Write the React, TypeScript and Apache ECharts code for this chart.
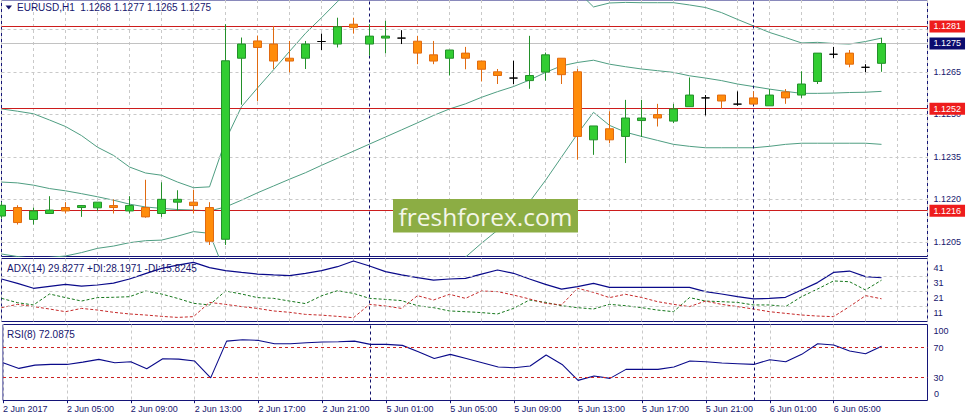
import React, { useEffect, useRef } from "react";
import * as echarts from "echarts";

// ---------- DATA ----------
const timeLabels = [
  "2 Jun 2017", "2 Jun 05:00", "2 Jun 09:00", "2 Jun 13:00", "2 Jun 17:00", "2 Jun 21:00",
  "5 Jun 01:00", "5 Jun 05:00", "5 Jun 09:00", "5 Jun 13:00", "5 Jun 17:00", "5 Jun 21:00",
  "6 Jun 01:00", "6 Jun 05:00",
];
const labelBars = [0, 4, 8, 12, 16, 20, 24, 28, 32, 36, 40, 44, 48, 52];
const daySeparators = [23, 47];

const opens = [
  1.12141, 1.12171, 1.12129, 1.1215, 1.12171, 1.12171, 1.1217, 1.12178, 1.12159, 1.12171,
  1.1215, 1.1219, 1.1219, 1.12171, 1.12059, 1.12698, 1.12759, 1.12748, 1.12698, 1.12698,
  1.12757, 1.12748, 1.12818, 1.12748, 1.12769, 1.12769, 1.12758, 1.1271, 1.12698, 1.12716,
  1.12688, 1.1265, 1.12628, 1.12619, 1.12649, 1.12698, 1.1265, 1.1241, 1.12449, 1.12422,
  1.12478, 1.12499, 1.12476, 1.12527, 1.12558, 1.12568, 1.12536, 1.12558, 1.1253, 1.12579,
  1.12568, 1.12616, 1.12712, 1.12716, 1.12666, 1.1268,
];
const highs = [
  1.12191, 1.12179, 1.12171, 1.12211, 1.1219, 1.1218, 1.1219, 1.122, 1.12211, 1.12269,
  1.1226, 1.12232, 1.12234, 1.1219, 1.12818, 1.12771, 1.12778, 1.12812, 1.12759, 1.12759,
  1.12785, 1.12841, 1.12841, 1.12818, 1.1283, 1.12797, 1.12777, 1.12759, 1.12727, 1.12738,
  1.12688, 1.1266, 1.12689, 1.12777, 1.12718, 1.12698, 1.1266, 1.12459, 1.12511, 1.12551,
  1.12551, 1.12537, 1.12537, 1.1263, 1.12568, 1.12568, 1.12581, 1.12581, 1.12589, 1.12589,
  1.12652, 1.12716, 1.12738, 1.12727, 1.12677, 1.1277,
];
const lows = [
  1.12132, 1.12111, 1.12111, 1.1215, 1.1215, 1.12138, 1.1216, 1.1215, 1.1215, 1.12135,
  1.12138, 1.1216, 1.1215, 1.12039, 1.12039, 1.12534, 1.12546, 1.1266, 1.12648, 1.1266,
  1.12727, 1.12736, 1.12785, 1.12707, 1.12715, 1.12748, 1.12677, 1.12677, 1.12637, 1.12659,
  1.12616, 1.12607, 1.12607, 1.1259, 1.12619, 1.12607, 1.1234, 1.12357, 1.12398, 1.12328,
  1.1242, 1.12457, 1.12469, 1.12527, 1.12496, 1.12519, 1.1253, 1.12536, 1.1253, 1.12537,
  1.12558, 1.12607, 1.12698, 1.12666, 1.12649, 1.1265,
];
const closes = [
  1.12179, 1.12118, 1.12159, 1.12162, 1.12159, 1.12178, 1.1219, 1.12171, 1.12178, 1.12138,
  1.122, 1.122, 1.12178, 1.12052, 1.12689, 1.12748, 1.12736, 1.12688, 1.12688, 1.12748,
  1.12757, 1.12809, 1.12806, 1.12776, 1.12776, 1.12769, 1.12716, 1.12688, 1.12727, 1.12698,
  1.12659, 1.12637, 1.12628, 1.12637, 1.1271, 1.1264, 1.12422, 1.12459, 1.1241, 1.12487,
  1.12487, 1.12487, 1.12519, 1.12568, 1.12558, 1.12547, 1.12536, 1.12536, 1.12568, 1.12558,
  1.12607, 1.12716, 1.12712, 1.12677, 1.12666, 1.1275,
];

const bbUpper = [
  1.12519, 1.12511, 1.12502, 1.1248, 1.12457, 1.12425, 1.12384, 1.12355, 1.12314, 1.12293,
  1.12285, 1.12261, 1.12241, 1.12244, 1.12408, 1.12527, 1.12593, 1.12657, 1.12722, 1.12786,
  1.12841, 1.12898, 1.1295, 1.1299, 1.1302, 1.1304, 1.1306, 1.1307, 1.13075, 1.13075,
  1.13075, 1.13069, 1.13055, 1.13051, 1.13029, 1.12993, 1.12935, 1.12879, 1.12893, 1.12895,
  1.12894, 1.12894, 1.12894, 1.12886, 1.12877, 1.12859, 1.12835, 1.12812, 1.12789, 1.12771,
  1.12752, 1.12754, 1.1275, 1.12748, 1.12757, 1.12769,
];
const bbMiddle = [
  1.12261, 1.12258, 1.1225, 1.12238, 1.1223, 1.1222, 1.12209, 1.12197, 1.12183, 1.12173,
  1.12168, 1.12164, 1.12162, 1.12159, 1.12173, 1.12197, 1.12223, 1.12247, 1.12271, 1.12294,
  1.1232, 1.12345, 1.1237, 1.12395, 1.1242, 1.12445, 1.1247, 1.12496, 1.12519, 1.12537,
  1.1256, 1.1258, 1.12598, 1.12621, 1.12648, 1.12671, 1.12683, 1.12691, 1.12677, 1.12668,
  1.1266, 1.12654, 1.12648, 1.12636, 1.12628, 1.12619, 1.12607, 1.12598, 1.12589, 1.12581,
  1.12574, 1.12574, 1.12575, 1.12577, 1.12578, 1.12581,
];
const bbLower = [
  1.12007, 1.11998, 1.11992, 1.11995, 1.12, 1.12012, 1.12027, 1.12035, 1.12047, 1.12054,
  1.12056, 1.1207, 1.12086, 1.1208, 1.11938, 1.11867, 1.11853, 1.11837, 1.1182, 1.11802,
  1.11799, 1.11792, 1.1179, 1.118, 1.1182, 1.1185, 1.1188, 1.1192, 1.11958, 1.11996,
  1.12045, 1.12091, 1.12141, 1.12191, 1.12267, 1.12349, 1.12431, 1.12507, 1.12461, 1.12437,
  1.12422, 1.12408, 1.12394, 1.12387, 1.12382, 1.12382, 1.12382, 1.12382, 1.12387, 1.12394,
  1.12398, 1.12398, 1.12398, 1.12398, 1.12398, 1.12394,
];

const adxMain = [
  29.0, 26.1, 22.8, 24.1, 25.4, 24.3, 25.0, 26.3, 29.0, 32.6,
  36.1, 38.3, 40.1, 36.6, 34.6, 33.4, 32.3, 31.7, 31.2, 32.8,
  34.6, 37.2, 41.0, 37.7, 33.9, 31.7, 29.9, 28.3, 29.0, 29.4,
  32.3, 35.0, 32.8, 29.0, 25.4, 22.3, 23.9, 26.1, 23.4, 23.4,
  23.4, 23.4, 23.4, 23.4, 20.6, 19.0, 17.2, 15.7, 16.1, 16.8,
  21.7, 26.6, 33.4, 34.3, 30.6, 29.83,
];
const plusDI = [
  16.1, 13.2, 11.7, 19.0, 16.6, 14.3, 16.6, 16.8, 17.2, 21.0,
  19.0, 16.1, 12.8, 11.7, 21.0, 19.0, 16.6, 16.1, 14.3, 12.6,
  17.8, 21.2, 19.4, 16.1, 15.4, 14.6, 11.2, 9.9, 7.7, 7.2,
  6.6, 5.7, 9.4, 15.0, 13.4, 11.2, 9.9, 9.0, 12.1, 11.2,
  9.9, 8.3, 7.2, 16.6, 14.3, 13.9, 13.4, 11.7, 11.7, 10.6,
  17.2, 22.3, 27.7, 27.2, 21.7, 28.2,
];
const minusDI = [
  9.9, 12.1, 10.6, 9.0, 7.2, 9.4, 8.3, 6.8, 5.7, 5.0,
  4.1, 3.4, 3.9, 13.4, 12.1, 10.6, 9.4, 7.7, 6.8, 5.4,
  4.9, 4.1, 3.2, 12.1, 11.0, 9.4, 17.9, 15.0, 18.8, 16.1,
  21.0, 20.6, 18.3, 15.7, 12.8, 11.7, 22.8, 20.1, 16.6, 18.8,
  16.7, 13.9, 12.1, 10.6, 14.3, 12.1, 10.6, 9.0, 7.2, 6.1,
  5.0, 4.3, 3.9, 10.6, 17.9, 15.82,
];
const rsi = [
  50.0, 42.4, 46.8, 47.7, 47.7, 50.8, 54.4, 50.0, 51.3, 42.0,
  55.3, 54.8, 52.2, 29.8, 78.8, 80.6, 79.7, 75.3, 75.3, 76.6,
  77.5, 78.0, 78.8, 74.4, 74.4, 73.1, 64.6, 55.7, 61.1, 55.7,
  50.0, 44.2, 43.3, 45.5, 60.2, 47.7, 26.4, 32.2, 29.1, 41.1,
  41.1, 41.1, 44.2, 52.2, 51.3, 49.5, 48.6, 47.7, 54.0, 51.3,
  61.1, 75.3, 73.5, 65.5, 62.0, 72.09,
];

const priceTicks = [1.1205, 1.122, 1.1235, 1.125, 1.1265, 1.128];
const levelLines = [1.1281, 1.1252, 1.1216];
const lastPrice = 1.1275;
const adxTicks = [11, 21, 31, 41];
const adxGridLevels = [11, 21, 31];
const rsiTicks = [30, 70, 100];
const rsiBottomTick = "0";
const rsiLevels = [70, 30];

// ---------- STYLE ----------
const FONT = "Liberation Sans";
const NAVY = "#16166e";
const BORDER = "#141478";
const GRIDC = "#c9c9c9";
const BB = "#4f9e82";
const BULL = "#32cd32";
const BULL_B = "#23902a";
const BEAR = "#ff8c0a";
const BEAR_B = "#e06a10";
const RED_LINE = "#cc1c1c";
const RED_TAG = "#ee1c1c";
const XMAX = 57.875;
// the terminal keeps the top label of the RSI scale inside the panel
const RSI_LABEL_NUDGE: Record<number, number> = { 100: 92.2 };

function buildOption(): any {
  const grids = [
    { left: 1.5, top: -1, width: 926, height: 257.5 },
    { left: 1.5, top: 258.5, width: 926, height: 63 },
    { left: 1.5, top: 324.5, width: 926, height: 76 },
  ].map((g) => ({
    ...g,
    show: true,
    borderColor: BORDER,
    borderWidth: 1,
    backgroundColor: "transparent",
    containLabel: false,
  }));

  const xAxes = [0, 1, 2].map((gi) => ({
    type: "value",
    gridIndex: gi,
    min: 0,
    max: XMAX,
    interval: 2,
    axisLine: { show: false },
    axisTick:
      gi === 2
        ? { show: true, customValues: labelBars, length: 3, lineStyle: { color: BORDER, width: 1 } }
        : { show: false },
    axisLabel:
      gi === 2
        ? {
            show: true,
            customValues: labelBars,
            formatter: (v: number) => {
              const i = Math.round(v / 4);
              return v % 4 === 0 && i < timeLabels.length ? timeLabels[i] : "";
            },
            align: "left",
            margin: 4,
            fontSize: 9,
            fontFamily: FONT,
            color: NAVY,
          }
        : { show: false },
    splitLine: { show: true, lineStyle: { color: GRIDC, type: [3, 3], width: 1 } },
  }));

  const rsiLabelPos = rsiTicks.map((t) => (RSI_LABEL_NUDGE[t] !== undefined ? RSI_LABEL_NUDGE[t] : t));

  const labelBase = { fontSize: 9, fontFamily: FONT, color: NAVY, margin: 6 };
  const yAxes = [
    {
      type: "value",
      gridIndex: 0,
      position: "right",
      min: 1.119982,
      max: 1.129035,
      axisLine: { show: false },
      axisTick: { show: false },
      splitLine: { show: false },
      axisLabel: { ...labelBase, customValues: priceTicks, formatter: (v: number) => v.toFixed(4) },
    },
    {
      type: "value",
      gridIndex: 1,
      position: "right",
      min: 0.667,
      max: 42.667,
      axisLine: { show: false },
      axisTick: { show: false },
      splitLine: { show: false },
      axisLabel: {
        ...labelBase,
        customValues: adxTicks,
        verticalAlign: "top",
        lineHeight: 14,
        formatter: (v: number) => String(Math.round(v)),
      },
    },
    {
      type: "value",
      gridIndex: 2,
      position: "right",
      min: -0.4,
      max: 100.93,
      axisLine: { show: false },
      axisTick: { show: false },
      splitLine: { show: false },
      axisLabel: {
        ...labelBase,
        customValues: rsiLabelPos,
        formatter: (v: number) => {
          let best = 0;
          rsiLabelPos.forEach((p, i) => {
            if (Math.abs(p - v) < Math.abs(rsiLabelPos[best] - v)) best = i;
          });
          return String(rsiTicks[best]);
        },
      },
    },
  ];

  const dummy = (gi: number, z: number, markLine: any) => ({
    type: "line",
    xAxisIndex: gi,
    yAxisIndex: gi,
    data: [],
    silent: true,
    z,
    markLine: {
      silent: true,
      symbol: ["none", "none"],
      animation: false,
      precision: 6,
      emphasis: { disabled: true },
      ...markLine,
    },
  });

  const hGrid = (gi: number, vals: number[], color: string, type: any, z = 1) =>
    dummy(gi, z, {
      label: { show: false },
      lineStyle: { color, width: 1, type },
      data: vals.map((v) => ({ yAxis: v })),
    });

  const daySep = (gi: number) =>
    dummy(gi, 4, {
      label: { show: false },
      lineStyle: { color: "#10106a", width: 1, type: [3, 3] },
      data: daySeparators.map((k) => ({ xAxis: k })),
    });

  const tagLabel = (bg: string) => ({
    show: true,
    position: "end",
    distance: 2,
    color: "#ffffff",
    backgroundColor: bg,
    padding: [1, 4, 1, 4],
    fontSize: 9,
    fontFamily: FONT,
    lineHeight: 10,
  });

  const lineSeries = (gi: number, vals: number[], color: string, type: any, z = 2, width = 1) => ({
    type: "line",
    xAxisIndex: gi,
    yAxisIndex: gi,
    data: vals.map((v, i) => [i, v]),
    symbol: "none",
    silent: true,
    z,
    lineStyle: { color, width, type },
  });

  const doji = { color: "#000", color0: "#000", borderColor: "#000", borderColor0: "#000", borderColorDoji: "#000" };
  const candleData = opens.map((o, i) => {
    const item: any = { value: [i, o, closes[i], lows[i], highs[i]] };
    if (o === closes[i]) item.itemStyle = doji;
    return item;
  });

  const series: any[] = [
    hGrid(0, priceTicks, GRIDC, [3, 3]),
    lineSeries(0, bbUpper, BB, "solid"),
    lineSeries(0, bbMiddle, BB, "solid"),
    lineSeries(0, bbLower, BB, "solid"),
    dummy(0, 3, {
      lineStyle: { color: "#c2c2c2", width: 1, type: "solid" },
      label: tagLabel("#0c0c6e"),
      data: [{ yAxis: lastPrice, label: { formatter: lastPrice.toFixed(4) } }],
    }),
    dummy(0, 3, {
      lineStyle: { color: RED_LINE, width: 1, type: "solid" },
      label: tagLabel(RED_TAG),
      data: levelLines.map((v) => ({ yAxis: v, label: { formatter: v.toFixed(4) } })),
    }),
    daySep(0),
    {
      type: "candlestick",
      xAxisIndex: 0,
      yAxisIndex: 0,
      z: 5,
      barWidth: 9,
      silent: true,
      encode: { x: 0, y: [1, 2, 3, 4] },
      data: candleData,
      itemStyle: {
        color: BULL,
        color0: BEAR,
        borderColor: BULL_B,
        borderColor0: BEAR_B,
        borderWidth: 1,
      },
    },
    hGrid(1, adxGridLevels, GRIDC, [3, 3]),
    daySep(1),
    lineSeries(1, plusDI, "#17781d", [3, 2], 2),
    lineSeries(1, minusDI, "#c62a2a", [3, 2], 2),
    lineSeries(1, adxMain, "#0a0a8a", "solid", 3, 1.2),
    hGrid(2, rsiLevels, "#cc2323", [3, 3]),
    daySep(2),
    lineSeries(2, rsi, "#0a0a8a", "solid", 3, 1.1),
  ];

  const txt = (x: number, y: number, text: string, fontSize = 10, z = 20) => ({
    type: "text",
    x,
    y,
    z,
    silent: true,
    style: { text, fontSize, fontFamily: FONT, fill: NAVY, verticalAlign: "middle", align: "left" },
  });

  return {
    animation: false,
    backgroundColor: "#ffffff",
    grid: grids,
    xAxis: xAxes,
    yAxis: yAxes,
    series,
    graphic: [
      {
        type: "polygon",
        z: 20,
        silent: true,
        shape: { points: [[5.5, 5.5], [12, 5.5], [8.75, 9.5]] },
        style: { fill: NAVY },
      },
      txt(17, 7.5, "EURUSD,H1  1.1268 1.1277 1.1265 1.1275"),
      txt(7, 268, "ADX(14) 29.8277 +DI:28.1971 -DI:15.8245"),
      txt(7, 334, "RSI(8) 72.0875"),
      // bottom label of the RSI scale (kept inside the panel, as the terminal does)
      txt(934, 393.5, rsiBottomTick, 9, 100),
      {
        type: "rect",
        z: 50,
        silent: true,
        shape: { x: 393, y: 199, width: 185, height: 33.5 },
        style: { fill: "#8cad44" },
      },
      {
        type: "text",
        z: 51,
        silent: true,
        x: 485.5,
        y: 216.5,
        style: {
          text: "freshforex.com",
          fontSize: 24.5,
          fontFamily: "Open Sans",
          fill: "#f4f6e8",
          align: "center",
          verticalAlign: "middle",
        },
      },
    ],
  };
}

export default function App() {
  const ref = useRef<HTMLDivElement>(null);
  useEffect(() => {
    if (!ref.current) return;
    const chart = echarts.init(ref.current, null, { renderer: "svg" });
    chart.setOption(buildOption());
    return () => chart.dispose();
  }, []);
  return (
    <div
      ref={ref}
      style={{ position: "fixed", left: 0, top: 0, width: 969, height: 419, background: "#fff" }}
    />
  );
}
